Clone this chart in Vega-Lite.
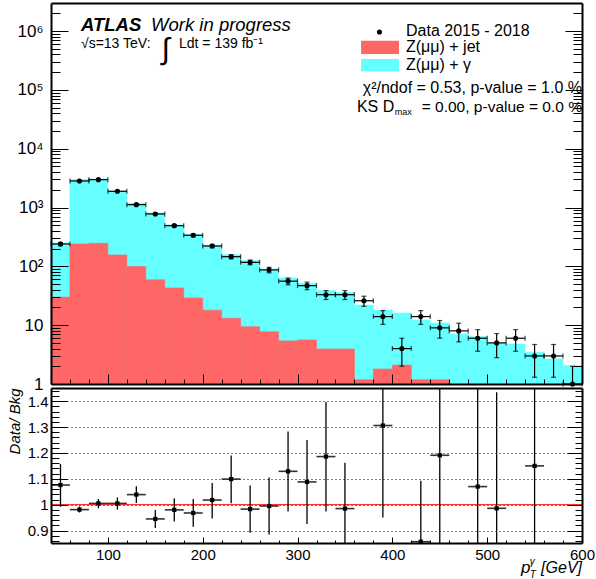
{
  "$schema": "https://vega.github.io/schema/vega-lite/v6.json",
  "padding": {"left": 7, "top": 3, "right": 0, "bottom": 0},
  "background": "white",
  "config": {
    "font": "Liberation Sans",
    "view": {"stroke": null},
    "text": {"font": "Liberation Sans", "fontSize": 16, "color": "black"},
    "axis": {"labelFont": "Liberation Sans", "labelColor": "black", "tickColor": "black", "domainColor": "black", "titleColor": "black", "titleFont": "Liberation Sans"}
  },
  "datasets": {
    "hist": [
      {"x": 50, "x0": 40, "x1": 60, "total": 250, "zjet": 30, "data": 240, "elo": 224.5, "ehi": 255.5},
      {"x": 70, "x0": 60, "x1": 80, "total": 2980, "zjet": 240, "data": 2830, "elo": 2776.8, "ehi": 2883.2},
      {"x": 90, "x0": 80, "x1": 100, "total": 3065, "zjet": 247, "data": 2980, "elo": 2925.4, "ehi": 3034.6},
      {"x": 110, "x0": 100, "x1": 120, "total": 1893, "zjet": 156, "data": 1890, "elo": 1846.5, "ehi": 1933.5},
      {"x": 130, "x0": 120, "x1": 140, "total": 1183, "zjet": 99, "data": 1120, "elo": 1086.5, "ehi": 1153.5},
      {"x": 150, "x0": 140, "x1": 160, "total": 809, "zjet": 59, "data": 778, "elo": 750.1, "ehi": 805.9},
      {"x": 170, "x0": 160, "x1": 180, "total": 506, "zjet": 43, "data": 492, "elo": 469.8, "ehi": 514.2},
      {"x": 190, "x0": 180, "x1": 200, "total": 347, "zjet": 29, "data": 338, "elo": 319.6, "ehi": 356.4},
      {"x": 210, "x0": 200, "x1": 220, "total": 228, "zjet": 18, "data": 222, "elo": 207.1, "ehi": 236.9},
      {"x": 230, "x0": 220, "x1": 240, "total": 158, "zjet": 13.1, "data": 146, "elo": 133.9, "ehi": 158.1},
      {"x": 250, "x0": 240, "x1": 260, "total": 125, "zjet": 9.4, "data": 117, "elo": 106.2, "ehi": 127.8},
      {"x": 270, "x0": 260, "x1": 280, "total": 90, "zjet": 7.7, "data": 87, "elo": 77.7, "ehi": 96.3},
      {"x": 290, "x0": 280, "x1": 300, "total": 63.5, "zjet": 5.4, "data": 56, "elo": 48.5, "ehi": 63.5},
      {"x": 310, "x0": 300, "x1": 320, "total": 51.6, "zjet": 5.6, "data": 47, "elo": 40.1, "ehi": 53.9},
      {"x": 330, "x0": 320, "x1": 340, "total": 38.6, "zjet": 3.94, "data": 33, "elo": 27.3, "ehi": 38.7},
      {"x": 350, "x0": 340, "x1": 360, "total": 36, "zjet": 3.94, "data": 33, "elo": 27.3, "ehi": 38.7},
      {"x": 370, "x0": 360, "x1": 380, "total": 22, "zjet": 1.18, "data": 26, "elo": 20.9, "ehi": 31.1},
      {"x": 390, "x0": 380, "x1": 400, "total": 18.1, "zjet": 1.8, "data": 14, "elo": 10.3, "ehi": 17.7},
      {"x": 410, "x0": 400, "x1": 420, "total": 16.1, "zjet": 2.1, "data": 4, "elo": 2, "ehi": 6},
      {"x": 430, "x0": 420, "x1": 440, "total": 12.3, "zjet": 1.18, "data": 14, "elo": 10.3, "ehi": 17.7},
      {"x": 450, "x0": 440, "x1": 460, "total": 10.9, "zjet": 1.18, "data": 9, "elo": 6, "ehi": 12},
      {"x": 470, "x0": 460, "x1": 480, "total": 7.1, "zjet": null, "data": 8, "elo": 5.2, "ehi": 10.8},
      {"x": 490, "x0": 480, "x1": 500, "total": 6.4, "zjet": null, "data": 6, "elo": 3.6, "ehi": 8.4},
      {"x": 510, "x0": 500, "x1": 520, "total": 4.98, "zjet": null, "data": 5, "elo": 2.8, "ehi": 7.2},
      {"x": 530, "x0": 520, "x1": 540, "total": 4.79, "zjet": null, "data": 6, "elo": 3.6, "ehi": 8.4},
      {"x": 550, "x0": 540, "x1": 560, "total": 3.46, "zjet": null, "data": 3, "elo": 1.3, "ehi": 4.7},
      {"x": 570, "x0": 560, "x1": 580, "total": 2.66, "zjet": null, "data": 3, "elo": 1.3, "ehi": 4.7},
      {"x": 590, "x0": 580, "x1": 600, "total": 2.05, "zjet": null, "data": 1, "elo": 1, "ehi": 2}
    ],
    "ratio": [
      {"x": 50, "x0": 40, "x1": 60, "r": 1.076, "lo": 0.992, "hi": 1.157},
      {"x": 70, "x0": 60, "x1": 80, "r": 0.981, "lo": 0.97, "hi": 0.993},
      {"x": 90, "x0": 80, "x1": 100, "r": 1.005, "lo": 0.986, "hi": 1.022},
      {"x": 110, "x0": 100, "x1": 120, "r": 1.005, "lo": 0.981, "hi": 1.028},
      {"x": 130, "x0": 120, "x1": 140, "r": 1.039, "lo": 1.007, "hi": 1.071},
      {"x": 150, "x0": 140, "x1": 160, "r": 0.945, "lo": 0.91, "hi": 0.98},
      {"x": 170, "x0": 160, "x1": 180, "r": 0.98, "lo": 0.935, "hi": 1.025},
      {"x": 190, "x0": 180, "x1": 200, "r": 0.968, "lo": 0.915, "hi": 1.022},
      {"x": 210, "x0": 200, "x1": 220, "r": 1.018, "lo": 0.947, "hi": 1.084},
      {"x": 230, "x0": 220, "x1": 240, "r": 1.099, "lo": 1.006, "hi": 1.19},
      {"x": 250, "x0": 240, "x1": 260, "r": 0.983, "lo": 0.892, "hi": 1.074},
      {"x": 270, "x0": 260, "x1": 280, "r": 0.995, "lo": 0.885, "hi": 1.105},
      {"x": 290, "x0": 280, "x1": 300, "r": 1.129, "lo": 0.974, "hi": 1.283},
      {"x": 310, "x0": 300, "x1": 320, "r": 1.088, "lo": 0.925, "hi": 1.25},
      {"x": 330, "x0": 320, "x1": 340, "r": 1.186, "lo": 0.974, "hi": 1.397},
      {"x": 350, "x0": 340, "x1": 360, "r": 0.985, "lo": 0.75, "hi": 1.162},
      {"x": 390, "x0": 380, "x1": 400, "r": 1.306, "lo": 0.951, "hi": 1.7},
      {"x": 430, "x0": 420, "x1": 440, "r": 0.857, "lo": 0.5, "hi": 1.093},
      {"x": 450, "x0": 440, "x1": 460, "r": 1.191, "lo": 0.5, "hi": 1.7},
      {"x": 490, "x0": 480, "x1": 500, "r": 1.07, "lo": 0.5, "hi": 1.7},
      {"x": 510, "x0": 500, "x1": 520, "r": 0.986, "lo": 0.5, "hi": 1.435},
      {"x": 550, "x0": 540, "x1": 560, "r": 1.15, "lo": 0.5, "hi": 1.7}
    ]
  },
  "bounds": "flush",
  "spacing": 4,
  "vconcat": [
    {
      "width": 531,
      "height": 381,
      "resolve": {"axis": {"x": "independent", "y": "independent"}},
      "layer": [
        {
          "data": {"name": "hist"},
          "mark": {"type": "rect", "color": "#66ffff", "stroke": "#66ffff", "strokeWidth": 0.6},
          "encoding": {
            "x": {"field": "x0", "type": "quantitative", "scale": {"domain": [40, 600], "nice": false, "zero": false},
              "axis": {"orient": "bottom", "values": [60, 80, 100, 120, 140, 160, 180, 200, 220, 240, 260, 280, 300, 320, 340, 360, 380, 400, 420, 440, 460, 480, 500, 520, 540, 560, 580], "labels": false, "title": null, "grid": false, "domainWidth": 2, "zindex": 1,
                "tickSize": {"condition": {"test": "datum.value % 100 === 0", "value": -10}, "value": -5}}},
            "x2": {"field": "x1"},
            "y": {"field": "total", "type": "quantitative", "scale": {"type": "log", "domain": [1, 3000000], "nice": false},
              "axis": {"orient": "left", "title": null, "grid": false, "domainWidth": 2, "zindex": 1, "labelFontSize": 17, "labelPadding": 25,
                "values": [1, 2, 3, 4, 5, 6, 7, 8, 9, 10, 20, 30, 40, 50, 60, 70, 80, 90, 100, 200, 300, 400, 500, 600, 700, 800, 900, 1000, 2000, 3000, 4000, 5000, 6000, 7000, 8000, 9000, 10000, 20000, 30000, 40000, 50000, 60000, 70000, 80000, 90000, 100000, 200000, 300000, 400000, 500000, 600000, 700000, 800000, 900000, 1000000, 2000000],
                "labelExpr": "datum.value == 1 ? '1' : datum.value == 10 ? '10' : datum.value == 100 ? '10²' : datum.value == 1000 ? '10³' : datum.value == 10000 ? '10⁴' : datum.value == 100000 ? '10⁵' : datum.value == 1000000 ? '10⁶' : ''",
                "tickSize": {"condition": {"test": "indexof([1, 10, 100, 1000, 10000, 100000, 1000000], datum.value) >= 0", "value": -17}, "value": -9}}},
            "y2": {"datum": 1}
          }
        },
        {
          "data": {"name": "hist"},
          "transform": [{"filter": "isValid(datum.zjet)"}],
          "mark": {"type": "rect", "color": "#ff6666", "stroke": "#ff6666", "strokeWidth": 0.6},
          "encoding": {
            "x": {"field": "x0", "type": "quantitative", "scale": {"domain": [40, 600], "nice": false, "zero": false}, "axis": null},
            "x2": {"field": "x1"},
            "y": {"field": "zjet", "type": "quantitative", "scale": {"type": "log", "domain": [1, 3000000], "nice": false}, "axis": null},
            "y2": {"datum": 1}
          }
        },
        {
          "data": {"name": "hist"},
          "mark": {"type": "rule", "color": "black", "strokeWidth": 1.2},
          "encoding": {
            "x": {"field": "x0", "type": "quantitative", "scale": {"domain": [40, 600], "nice": false, "zero": false}, "axis": null},
            "x2": {"field": "x1"},
            "y": {"field": "data", "type": "quantitative", "scale": {"type": "log", "domain": [1, 3000000], "nice": false}, "axis": null}
          }
        },
        {
          "data": {"name": "hist"},
          "mark": {"type": "rule", "color": "black", "strokeWidth": 1.2},
          "encoding": {
            "x": {"field": "x", "type": "quantitative", "scale": {"domain": [40, 600], "nice": false, "zero": false}, "axis": null},
            "y": {"field": "elo", "type": "quantitative", "scale": {"type": "log", "domain": [1, 3000000], "nice": false}, "axis": null},
            "y2": {"field": "ehi"}
          }
        },
        {
          "data": {"name": "hist"},
          "transform": [{"fold": ["elo", "ehi"], "as": ["end", "ev"]}],
          "mark": {"type": "tick", "orient": "horizontal", "color": "black", "size": 5, "thickness": 1.2},
          "encoding": {
            "x": {"field": "x", "type": "quantitative", "scale": {"domain": [40, 600], "nice": false, "zero": false}, "axis": null},
            "y": {"field": "ev", "type": "quantitative", "scale": {"type": "log", "domain": [1, 3000000], "nice": false}, "axis": null}
          }
        },
        {
          "data": {"name": "hist"},
          "transform": [{"fold": ["x0", "x1"], "as": ["side", "xv"]}],
          "mark": {"type": "tick", "orient": "vertical", "color": "black", "size": 5, "thickness": 1.2},
          "encoding": {
            "x": {"field": "xv", "type": "quantitative", "scale": {"domain": [40, 600], "nice": false, "zero": false}, "axis": null},
            "y": {"field": "data", "type": "quantitative", "scale": {"type": "log", "domain": [1, 3000000], "nice": false}, "axis": null}
          }
        },
        {
          "data": {"name": "hist"},
          "mark": {"type": "circle", "color": "black", "opacity": 1, "size": 26},
          "encoding": {
            "x": {"field": "x", "type": "quantitative", "scale": {"domain": [40, 600], "nice": false, "zero": false},
              "axis": {"orient": "top", "labels": false, "ticks": false, "title": null, "grid": false, "domainWidth": 2, "zindex": 1}},
            "y": {"field": "data", "type": "quantitative", "scale": {"type": "log", "domain": [1, 3000000], "nice": false},
              "axis": {"orient": "right", "title": null, "grid": false, "labels": false, "domainWidth": 2, "zindex": 1,
                "values": [1, 2, 3, 4, 5, 6, 7, 8, 9, 10, 20, 30, 40, 50, 60, 70, 80, 90, 100, 200, 300, 400, 500, 600, 700, 800, 900, 1000, 2000, 3000, 4000, 5000, 6000, 7000, 8000, 9000, 10000, 20000, 30000, 40000, 50000, 60000, 70000, 80000, 90000, 100000, 200000, 300000, 400000, 500000, 600000, 700000, 800000, 900000, 1000000, 2000000],
                "tickSize": {"condition": {"test": "indexof([1, 10, 100, 1000, 10000, 100000, 1000000], datum.value) >= 0", "value": -17}, "value": -9}}}
          }
        },
        {
          "data": {"values": [{}]},
          "mark": {"type": "text", "text": "ATLAS", "fontSize": 18.5, "fontWeight": "bold", "fontStyle": "italic", "align": "left", "baseline": "alphabetic"},
          "encoding": {
            "x": {"datum": 71.6, "type": "quantitative", "scale": {"domain": [40, 600], "nice": false, "zero": false}, "axis": null},
            "y": {"datum": 1000000, "type": "quantitative", "scale": {"type": "log", "domain": [1, 3000000], "nice": false}, "axis": null}
          }
        },
        {
          "data": {"values": [{}]},
          "mark": {"type": "text", "text": "Work in progress", "fontSize": 18.5, "fontStyle": "italic", "align": "left", "baseline": "alphabetic"},
          "encoding": {
            "x": {"datum": 145.5, "type": "quantitative", "scale": {"domain": [40, 600], "nice": false, "zero": false}, "axis": null},
            "y": {"datum": 1000000, "type": "quantitative", "scale": {"type": "log", "domain": [1, 3000000], "nice": false}, "axis": null}
          }
        },
        {
          "data": {"values": [{}]},
          "mark": {"type": "text", "text": "√s=13 TeV:", "fontSize": 14, "align": "left", "baseline": "alphabetic"},
          "encoding": {
            "x": {"datum": 71.6, "type": "quantitative", "scale": {"domain": [40, 600], "nice": false, "zero": false}, "axis": null},
            "y": {"datum": 510000, "type": "quantitative", "scale": {"type": "log", "domain": [1, 3000000], "nice": false}, "axis": null}
          }
        },
        {
          "data": {"values": [{}]},
          "mark": {"type": "text", "text": "∫", "fontSize": 30, "align": "center", "baseline": "middle"},
          "encoding": {
            "x": {"datum": 161, "type": "quantitative", "scale": {"domain": [40, 600], "nice": false, "zero": false}, "axis": null},
            "y": {"datum": 470000, "type": "quantitative", "scale": {"type": "log", "domain": [1, 3000000], "nice": false}, "axis": null}
          }
        },
        {
          "data": {"values": [{}]},
          "mark": {"type": "text", "text": "Ldt = 139 fb⁻¹", "fontSize": 14, "align": "left", "baseline": "alphabetic"},
          "encoding": {
            "x": {"datum": 175, "type": "quantitative", "scale": {"domain": [40, 600], "nice": false, "zero": false}, "axis": null},
            "y": {"datum": 510000, "type": "quantitative", "scale": {"type": "log", "domain": [1, 3000000], "nice": false}, "axis": null}
          }
        },
        {
          "data": {"values": [{}]},
          "mark": {"type": "circle", "color": "black", "opacity": 1, "size": 26},
          "encoding": {
            "x": {"datum": 386.4, "type": "quantitative", "scale": {"domain": [40, 600], "nice": false, "zero": false}, "axis": null},
            "y": {"datum": 965000, "type": "quantitative", "scale": {"type": "log", "domain": [1, 3000000], "nice": false}, "axis": null}
          }
        },
        {
          "data": {"values": [{}]},
          "mark": {"type": "rect", "color": "#ff6666"},
          "encoding": {
            "x": {"datum": 367, "type": "quantitative", "scale": {"domain": [40, 600], "nice": false, "zero": false}, "axis": null},
            "x2": {"datum": 407},
            "y": {"datum": 687000, "type": "quantitative", "scale": {"type": "log", "domain": [1, 3000000], "nice": false}, "axis": null},
            "y2": {"datum": 408000}
          }
        },
        {
          "data": {"values": [{}]},
          "mark": {"type": "rect", "color": "#66ffff"},
          "encoding": {
            "x": {"datum": 367, "type": "quantitative", "scale": {"domain": [40, 600], "nice": false, "zero": false}, "axis": null},
            "x2": {"datum": 407},
            "y": {"datum": 335000, "type": "quantitative", "scale": {"type": "log", "domain": [1, 3000000], "nice": false}, "axis": null},
            "y2": {"datum": 207000}
          }
        },
        {
          "data": {"values": [{"label": "Data 2015 - 2018", "v": 990000}, {"label": "Z(μμ) + jet", "v": 530000}, {"label": "Z(μμ) + γ", "v": 268000}]},
          "mark": {"type": "text", "fontSize": 16, "align": "left", "baseline": "middle"},
          "encoding": {
            "text": {"field": "label"},
            "x": {"datum": 414.4, "type": "quantitative", "scale": {"domain": [40, 600], "nice": false, "zero": false}, "axis": null},
            "y": {"field": "v", "type": "quantitative", "scale": {"type": "log", "domain": [1, 3000000], "nice": false}, "axis": null}
          }
        },
        {
          "data": {"values": [{}]},
          "mark": {"type": "text", "text": "χ²/ndof = 0.53, p-value = 1.0 %", "fontSize": 16, "align": "right", "baseline": "middle"},
          "encoding": {
            "x": {"datum": 600, "type": "quantitative", "scale": {"domain": [40, 600], "nice": false, "zero": false}, "axis": null},
            "y": {"datum": 106000, "type": "quantitative", "scale": {"type": "log", "domain": [1, 3000000], "nice": false}, "axis": null}
          }
        },
        {
          "data": {"values": [{}]},
          "mark": {"type": "text", "text": "KS D", "fontSize": 16, "align": "right", "baseline": "middle"},
          "encoding": {
            "x": {"datum": 402, "type": "quantitative", "scale": {"domain": [40, 600], "nice": false, "zero": false}, "axis": null},
            "y": {"datum": 50600, "type": "quantitative", "scale": {"type": "log", "domain": [1, 3000000], "nice": false}, "axis": null}
          }
        },
        {
          "data": {"values": [{}]},
          "mark": {"type": "text", "text": "max", "fontSize": 9, "align": "left", "baseline": "middle"},
          "encoding": {
            "x": {"datum": 402.5, "type": "quantitative", "scale": {"domain": [40, 600], "nice": false, "zero": false}, "axis": null},
            "y": {"datum": 42000, "type": "quantitative", "scale": {"type": "log", "domain": [1, 3000000], "nice": false}, "axis": null}
          }
        },
        {
          "data": {"values": [{}]},
          "mark": {"type": "text", "text": "= 0.00, p-value = 0.0 %", "fontSize": 15.5, "align": "right", "baseline": "middle"},
          "encoding": {
            "x": {"datum": 600, "type": "quantitative", "scale": {"domain": [40, 600], "nice": false, "zero": false}, "axis": null},
            "y": {"datum": 50600, "type": "quantitative", "scale": {"type": "log", "domain": [1, 3000000], "nice": false}, "axis": null}
          }
        }
      ]
    },
    {
      "width": 531,
      "height": 155,
      "resolve": {"axis": {"x": "independent", "y": "independent"}},
      "layer": [
        {
          "data": {"name": "ratio"},
          "mark": {"type": "rule", "color": "#333333", "strokeWidth": 1.6, "clip": true},
          "encoding": {
            "x": {"field": "x0", "type": "quantitative", "scale": {"domain": [40, 600], "nice": false, "zero": false},
              "axis": {"orient": "bottom", "values": [60, 80, 100, 120, 140, 160, 180, 200, 220, 240, 260, 280, 300, 320, 340, 360, 380, 400, 420, 440, 460, 480, 500, 520, 540, 560, 580, 600], "title": null, "grid": false, "domainWidth": 2, "zindex": 1, "labelFlush": false, "labelFontSize": 15, "labelPadding": 10,
                "labelExpr": "datum.value % 100 === 0 ? datum.value : ''",
                "tickSize": {"condition": {"test": "datum.value % 100 === 0", "value": -6}, "value": -3}}},
            "x2": {"field": "x1"},
            "y": {"field": "r", "type": "quantitative", "scale": {"domain": [0.852, 1.451], "nice": false, "zero": false},
              "axis": {"orient": "left", "title": "Data/ Bkg", "titleFontSize": 15, "titleFontStyle": "italic", "titleFontWeight": "normal", "titleAnchor": "end", "titlePadding": 5,
                "domainWidth": 2, "zindex": 1, "labelFontSize": 15, "labelPadding": 19,
                "values": [0.86, 0.88, 0.9, 0.92, 0.94, 0.96, 0.98, 1, 1.02, 1.04, 1.06, 1.08, 1.1, 1.12, 1.14, 1.16, 1.18, 1.2, 1.22, 1.24, 1.26, 1.28, 1.3, 1.32, 1.34, 1.36, 1.38, 1.4, 1.42, 1.44],
                "labelExpr": "abs(datum.value*10 - round(datum.value*10)) < 0.001 ? (datum.value == 1 ? '1' : format(datum.value, '.1f')) : ''",
                "grid": true, "gridColor": "black", "gridDash": [1, 3], "gridWidth": 1,
                "gridOpacity": {"condition": {"test": "abs(datum.value*10 - round(datum.value*10)) < 0.001", "value": 1}, "value": 0},
                "tickSize": {"condition": {"test": "abs(datum.value*10 - round(datum.value*10)) < 0.001", "value": -16}, "value": -8}}}
          }
        },
        {
          "data": {"values": [{}]},
          "mark": {"type": "rule", "color": "#ff0000", "strokeWidth": 1},
          "encoding": {
            "y": {"datum": 1, "type": "quantitative", "scale": {"domain": [0.852, 1.451], "nice": false, "zero": false}, "axis": null}
          }
        },
        {
          "data": {"name": "ratio"},
          "mark": {"type": "rule", "color": "black", "strokeWidth": 1.3, "clip": true},
          "encoding": {
            "x": {"field": "x", "type": "quantitative", "scale": {"domain": [40, 600], "nice": false, "zero": false}, "axis": null},
            "y": {"field": "lo", "type": "quantitative", "scale": {"domain": [0.852, 1.451], "nice": false, "zero": false}, "axis": null},
            "y2": {"field": "hi"}
          }
        },
        {
          "data": {"name": "ratio"},
          "mark": {"type": "point", "shape": "square", "filled": true, "color": "black", "opacity": 1, "size": 18},
          "encoding": {
            "x": {"field": "x", "type": "quantitative", "scale": {"domain": [40, 600], "nice": false, "zero": false},
              "axis": {"orient": "top", "labels": false, "ticks": false, "title": null, "grid": false, "domainWidth": 2, "zindex": 1}},
            "y": {"field": "r", "type": "quantitative", "scale": {"domain": [0.852, 1.451], "nice": false, "zero": false},
              "axis": {"orient": "right", "title": null, "grid": false, "labels": false, "domainWidth": 2, "zindex": 1,
                "values": [0.86, 0.88, 0.9, 0.92, 0.94, 0.96, 0.98, 1, 1.02, 1.04, 1.06, 1.08, 1.1, 1.12, 1.14, 1.16, 1.18, 1.2, 1.22, 1.24, 1.26, 1.28, 1.3, 1.32, 1.34, 1.36, 1.38, 1.4, 1.42, 1.44],
                "tickSize": {"condition": {"test": "abs(datum.value*10 - round(datum.value*10)) < 0.001", "value": -15}, "value": -7}}}
          }
        },
        {
          "data": {"values": [{}]},
          "mark": {"type": "text", "text": "p", "fontSize": 17, "fontStyle": "italic", "align": "left", "baseline": "alphabetic"},
          "encoding": {
            "x": {"datum": 535.7, "type": "quantitative", "scale": {"domain": [40, 600], "nice": false, "zero": false}, "axis": null},
            "y": {"datum": 0.735, "type": "quantitative", "scale": {"domain": [0.852, 1.451], "nice": false, "zero": false}, "axis": null}
          }
        },
        {
          "data": {"values": [{}]},
          "mark": {"type": "text", "text": "γ", "fontSize": 10, "fontStyle": "italic", "align": "left", "baseline": "middle"},
          "encoding": {
            "x": {"datum": 545, "type": "quantitative", "scale": {"domain": [40, 600], "nice": false, "zero": false}, "axis": null},
            "y": {"datum": 0.778, "type": "quantitative", "scale": {"domain": [0.852, 1.451], "nice": false, "zero": false}, "axis": null}
          }
        },
        {
          "data": {"values": [{}]},
          "mark": {"type": "text", "text": "T", "fontSize": 10, "fontStyle": "italic", "align": "left", "baseline": "middle"},
          "encoding": {
            "x": {"datum": 545, "type": "quantitative", "scale": {"domain": [40, 600], "nice": false, "zero": false}, "axis": null},
            "y": {"datum": 0.727, "type": "quantitative", "scale": {"domain": [0.852, 1.451], "nice": false, "zero": false}, "axis": null}
          }
        },
        {
          "data": {"values": [{}]},
          "mark": {"type": "text", "text": "[GeV]", "fontSize": 16, "fontStyle": "italic", "align": "right", "baseline": "alphabetic"},
          "encoding": {
            "x": {"datum": 600, "type": "quantitative", "scale": {"domain": [40, 600], "nice": false, "zero": false}, "axis": null},
            "y": {"datum": 0.735, "type": "quantitative", "scale": {"domain": [0.852, 1.451], "nice": false, "zero": false}, "axis": null}
          }
        }
      ]
    }
  ]
}
